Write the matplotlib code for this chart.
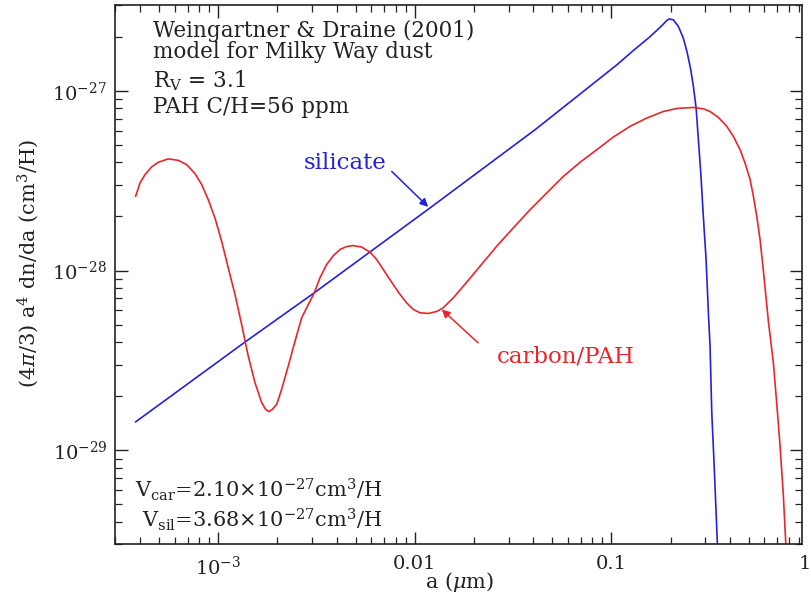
import matplotlib
matplotlib.use("Agg")
import matplotlib.pyplot as plt
from matplotlib.ticker import LogLocator, NullFormatter, FixedLocator, FixedFormatter

# ---------------- data ----------------
sil_a = [3.80e-4, 1.367e-3, 3.08e-3, 1.195e-2, 4.09e-2, 8.76e-2, 0.1066, 0.1294,
         0.1574, 0.1805, 0.1914, 0.197, 0.2068, 0.2193, 0.2325, 0.2435, 0.2535,
         0.2615, 0.270, 0.2772, 0.2851, 0.2938, 0.3034, 0.3117, 0.3178, 0.3243,
         0.333, 0.3463]
sil_v = [1.44e-29, 4.00e-29, 7.52e-29, 2.23e-28, 6.07e-28, 1.175e-27, 1.393e-27, 1.675e-27,
         2.0e-27, 2.30e-27, 2.46e-27, 2.51e-27, 2.48e-27, 2.28e-27, 1.96e-27, 1.62e-27, 1.31e-27,
         1.057e-27, 8.0e-28, 5.35e-28, 3.49e-28, 2.0e-28, 1.151e-28, 5.82e-29, 3.80e-29, 1.62e-29,
         8.55e-30, 3.03e-30]

car_a = [3.80e-4, 3.995e-4, 4.236e-4, 4.58e-4, 4.95e-4, 5.57e-4, 6.26e-4, 6.91e-4,
         7.61e-4, 8.23e-4, 8.89e-4, 9.62e-4, 1.040e-3, 1.124e-3, 1.216e-3, 1.315e-3,
         1.421e-3, 1.537e-3, 1.663e-3, 1.742e-3, 1.811e-3, 1.883e-3, 1.982e-3, 2.10e-3,
         2.27e-3, 2.457e-3, 2.657e-3, 2.871e-3, 3.08e-3, 3.29e-3, 3.56e-3, 3.85e-3,
         4.16e-3, 4.50e-3, 4.86e-3, 5.37e-3, 5.92e-3, 6.40e-3, 6.91e-3, 7.63e-3,
         8.41e-3, 9.10e-3, 9.83e-3, 1.063e-2, 1.172e-2, 1.293e-2, 1.396e-2, 1.570e-2,
         1.765e-2, 2.148e-2, 2.61e-2, 3.17e-2, 3.86e-2, 4.69e-2, 5.70e-2, 6.93e-2,
         8.43e-2, 0.1024, 0.1245, 0.1514, 0.1839, 0.2153, 0.2325, 0.2615, 0.2938,
         0.3178, 0.3504, 0.3866, 0.4177, 0.4519, 0.479, 0.508, 0.528, 0.5495,
         0.571, 0.5935, 0.6295, 0.6673, 0.6948, 0.7218, 0.7504, 0.7718]
car_v = [2.59e-28, 3.07e-28, 3.41e-28, 3.77e-28, 4.00e-28, 4.18e-28, 4.10e-28, 3.88e-28,
         3.46e-28, 3.01e-28, 2.48e-28, 1.96e-28, 1.456e-28, 1.035e-28, 7.36e-29, 5.01e-29,
         3.34e-29, 2.38e-29, 1.84e-29, 1.69e-29, 1.64e-29, 1.69e-29, 1.80e-29, 2.18e-29,
         2.94e-29, 4.04e-29, 5.46e-29, 6.47e-29, 7.52e-29, 9.1e-29, 1.08e-28, 1.21e-28,
         1.309e-28, 1.36e-28, 1.377e-28, 1.35e-28, 1.264e-28, 1.151e-28, 1.013e-28, 8.6e-29,
         7.36e-29, 6.6e-29, 6.07e-29, 5.82e-29, 5.77e-29, 5.92e-29, 6.21e-29, 7.05e-29,
         8.18e-29, 1.057e-28, 1.365e-28, 1.726e-28, 2.18e-28, 2.70e-28, 3.34e-28, 4.0e-28,
         4.70e-28, 5.53e-28, 6.34e-28, 7.05e-28, 7.67e-28, 7.97e-28, 8.02e-28, 8.07e-28, 7.94e-28,
         7.67e-28, 7.11e-28, 6.34e-28, 5.57e-28, 4.70e-28, 3.96e-28, 3.21e-28, 2.59e-28, 2.0e-28,
         1.486e-28, 1.0e-28, 5.22e-29, 3.07e-29, 1.80e-29, 1.057e-29, 5.57e-30, 3.03e-30]

x_ticks = [1e-3, 1e-2, 1e-1]
x_ticklabels = [r"$10^{-3}$", "0.01", "0.1"]
y_ticks = [1e-29, 1e-28, 1e-27]
y_ticklabels = [r"$10^{-29}$", r"$10^{-28}$", r"$10^{-27}$"]

title_lines = ["Weingartner & Draine (2001)", "model for Milky Way dust",
               r"R$_{\rm V}$ = 3.1", "PAH C/H=56 ppm"]
vol_lines = [r"V$_{\rm car}$=2.10$\times$10$^{-27}$cm$^3$/H",
             r"V$_{\rm sil}$=3.68$\times$10$^{-27}$cm$^3$/H"]

# ---------------- style ----------------
plt.rcParams["font.family"] = ["DejaVu Serif"]
plt.rcParams["mathtext.fontset"] = "dejavuserif"

BLUE = "#2222dd"
RED = "#e8262b"
INK = "#222222"
W, H = 812, 597

fig = plt.figure(figsize=(W / 100, H / 100), dpi=100)
ax = fig.add_axes([115.5 / W, 1 - 544.3 / H, (801.7 - 115.5) / W, (544.3 - 5) / H])

ax.plot(sil_a, sil_v, color=BLUE, lw=1.2, solid_joinstyle="round")
ax.plot(car_a, car_v, color=RED, lw=1.2, solid_joinstyle="round")

ax.set_xscale("log")
ax.set_yscale("log")
ax.set_xlim(3.0e-4, 0.93)
ax.set_ylim(3.0e-30, 3.0e-27)

ax.xaxis.set_major_locator(FixedLocator(x_ticks))
ax.xaxis.set_major_formatter(FixedFormatter(x_ticklabels))
ax.yaxis.set_major_locator(FixedLocator(y_ticks))
ax.yaxis.set_major_formatter(FixedFormatter(y_ticklabels))
ax.xaxis.set_minor_locator(LogLocator(base=10, subs=range(2, 10), numticks=100))
ax.yaxis.set_minor_locator(LogLocator(base=10, subs=range(2, 10), numticks=100))
ax.xaxis.set_minor_formatter(NullFormatter())
ax.yaxis.set_minor_formatter(NullFormatter())

ax.tick_params(which="both", direction="in", top=True, right=True, color=INK)
ax.tick_params(which="major", length=9, width=1.0, labelsize=14, labelcolor=INK)
ax.tick_params(which="minor", length=5, width=0.9)
ax.tick_params(axis="x", which="major", pad=8)
ax.tick_params(axis="y", which="major", pad=6)
for s in ax.spines.values():
    s.set_linewidth(1.2)
    s.set_color(INK)

# label "1" at the right end (just outside the view limits)
ax.text(0.962, -0.02, "1", transform=ax.get_xaxis_transform(), ha="center", va="top",
        fontsize=14, color=INK, clip_on=False)

# axis labels
fig.text(460 / W, 1 - 582 / H, r"a $(\mu$m)", ha="center", va="center", fontsize=15,
         color=INK)
fig.text(28 / W, 1 - 263 / H,
         r"(4$\pi$/3) a$^4$ dn/da (cm$^3$/H)",
         rotation=90, ha="center", va="center", fontsize=15, color=INK)

# top-left text block
baselines = [37.3, 58.3, 87.3, 113.3]
for line, yb in zip(title_lines, baselines):
    fig.text(153 / W, 1 - yb / H, line, ha="left", va="baseline", fontsize=15.5,
             color=INK)

# bottom-left volume text
fig.text(382 / W, 1 - 497 / H, vol_lines[0], ha="right", va="baseline", fontsize=15,
         color=INK)
fig.text(382 / W, 1 - 527 / H, vol_lines[1], ha="right", va="baseline", fontsize=15,
         color=INK)

# annotations
ax.annotate("", xy=(1.17e-2, 2.26e-28), xytext=(7.63e-3, 3.56e-28),
            arrowprops=dict(arrowstyle="-|>", color=BLUE, lw=1.1,
                            mutation_scale=12, shrinkA=0, shrinkB=0))
ax.text(4.42e-3, 3.98e-28, "silicate", color=BLUE, ha="center", va="center", fontsize=16.5)
ax.annotate("", xy=(1.371e-2, 6.07e-29), xytext=(2.10e-2, 3.96e-29),
            arrowprops=dict(arrowstyle="-|>", color=RED, lw=1.1,
                            mutation_scale=12, shrinkA=0, shrinkB=0))
ax.text(5.88e-2, 3.33e-29, "carbon/PAH", color=RED, ha="center", va="center", fontsize=16.5)

fig.savefig("out.png", dpi=100)
